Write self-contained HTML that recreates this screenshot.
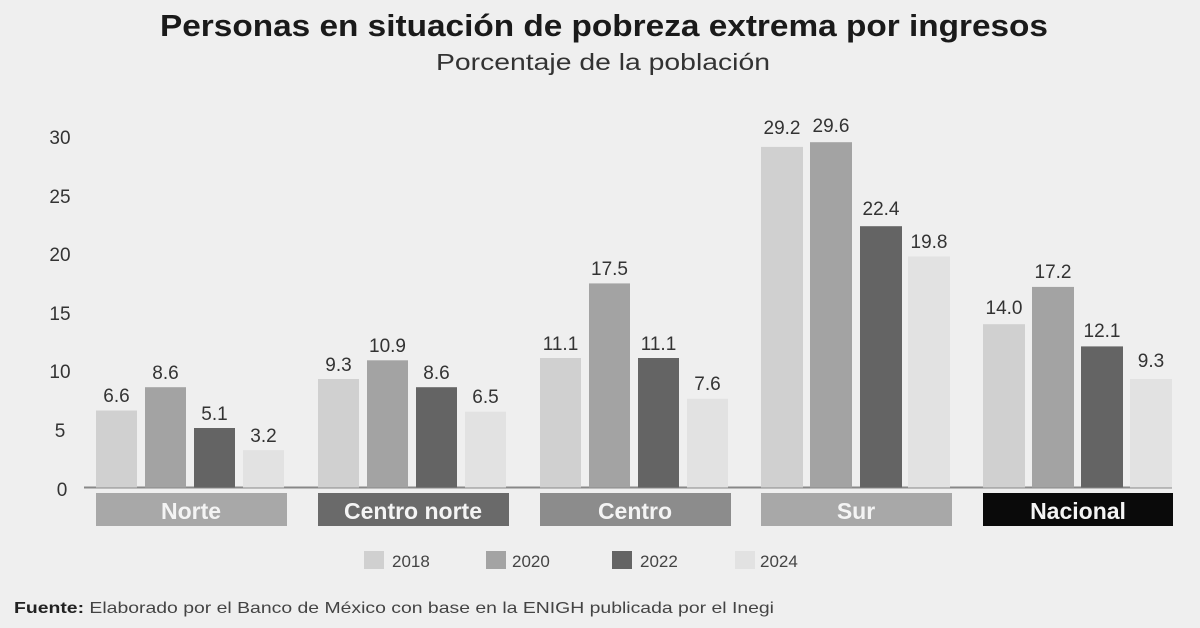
<!DOCTYPE html>
<html><head><meta charset="utf-8"><style>
html,body{margin:0;padding:0;background:#efefef}
svg{display:block;font-family:"Liberation Sans",sans-serif}
</style></head><body>
<svg width="1200" height="628" viewBox="0 0 1200 628" xmlns="http://www.w3.org/2000/svg">
<rect width="1200" height="628" fill="#efefef"/>
<text x="604" y="36" text-anchor="middle" font-size="31" font-weight="bold" fill="#1a1a1a" textLength="888" lengthAdjust="spacingAndGlyphs">Personas en situación de pobreza extrema por ingresos</text>
<text x="603" y="70" text-anchor="middle" font-size="23" fill="#333" textLength="334" lengthAdjust="spacingAndGlyphs">Porcentaje de la población</text>
<g font-size="19" fill="#333" text-anchor="middle">
<text x="60" y="144">30</text><text x="60" y="203">25</text><text x="60" y="261">20</text>
<text x="60" y="320">15</text><text x="60" y="378">10</text><text x="60" y="437">5</text><text x="62" y="496">0</text>
</g>
<line x1="84" y1="487.5" x2="1172" y2="487.5" stroke="#888" stroke-width="2"/>
<g font-size="23" font-weight="bold" fill="#f4f4f4" text-anchor="middle">
<rect x="96" y="493" width="191" height="33" fill="#a8a8a8"/><text x="191" y="519">Norte</text>
<rect x="318" y="493" width="191" height="33" fill="#6a6a6a"/><text x="413" y="519">Centro norte</text>
<rect x="540" y="493" width="191" height="33" fill="#8c8c8c"/><text x="635" y="519">Centro</text>
<rect x="761" y="493" width="191" height="33" fill="#a8a8a8"/><text x="856" y="519">Sur</text>
<rect x="983" y="493" width="190" height="33" fill="#0a0a0a"/><text x="1078" y="519">Nacional</text>
</g>
<g font-size="17" fill="#444">
<rect x="364" y="551" width="20" height="18" fill="#d0d0d0"/><text x="392" y="567">2018</text>
<rect x="486" y="551" width="20" height="18" fill="#a3a3a3"/><text x="512" y="567">2020</text>
<rect x="612" y="551" width="20" height="18" fill="#646464"/><text x="640" y="567">2022</text>
<rect x="735" y="551" width="20" height="18" fill="#e2e2e2"/><text x="760" y="567">2024</text>
</g>
<text x="14" y="613" font-size="16" fill="#444" textLength="760" lengthAdjust="spacingAndGlyphs"><tspan font-weight="bold" fill="#222">Fuente:</tspan> Elaborado por el Banco de México con base en la ENIGH publicada por el Inegi</text>
<g font-size="19" fill="#333" text-anchor="middle">
<rect x="96" y="410.5" width="41" height="77" fill="#d0d0d0"/><text x="116.5" y="402">6.6</text>
<rect x="145" y="387.2" width="41" height="100.3" fill="#a3a3a3"/><text x="165.5" y="379">8.6</text>
<rect x="194" y="428" width="41" height="59.5" fill="#646464"/><text x="214.5" y="420">5.1</text>
<rect x="243" y="450.2" width="41" height="37.3" fill="#e2e2e2"/><text x="263.5" y="442">3.2</text>

<rect x="318" y="379" width="41" height="108.5" fill="#d0d0d0"/><text x="338.5" y="371">9.3</text>
<rect x="367" y="360.3" width="41" height="127.2" fill="#a3a3a3"/><text x="387.5" y="352">10.9</text>
<rect x="416" y="387.2" width="41" height="100.3" fill="#646464"/><text x="436.5" y="379">8.6</text>
<rect x="465" y="411.7" width="41" height="75.8" fill="#e2e2e2"/><text x="485.5" y="403">6.5</text>

<rect x="540" y="358" width="41" height="129.5" fill="#d0d0d0"/><text x="560.5" y="350">11.1</text>
<rect x="589" y="283.4" width="41" height="204.1" fill="#a3a3a3"/><text x="609.5" y="275">17.5</text>
<rect x="638" y="358" width="41" height="129.5" fill="#646464"/><text x="658.5" y="350">11.1</text>
<rect x="687" y="398.8" width="41" height="88.7" fill="#e2e2e2"/><text x="707.5" y="390">7.6</text>

<rect x="761" y="146.9" width="42" height="340.6" fill="#d0d0d0"/><text x="782" y="134">29.2</text>
<rect x="810" y="142.2" width="42" height="345.3" fill="#a3a3a3"/><text x="831" y="132">29.6</text>
<rect x="860" y="226.2" width="42" height="261.3" fill="#646464"/><text x="881" y="215">22.4</text>
<rect x="908" y="256.5" width="42" height="231" fill="#e2e2e2"/><text x="929" y="248">19.8</text>

<rect x="983" y="324.2" width="42" height="163.3" fill="#d0d0d0"/><text x="1004" y="314">14.0</text>
<rect x="1032" y="286.9" width="42" height="200.6" fill="#a3a3a3"/><text x="1053" y="278">17.2</text>
<rect x="1081" y="346.4" width="42" height="141.1" fill="#646464"/><text x="1102" y="337">12.1</text>
<rect x="1130" y="379" width="42" height="108.5" fill="#e2e2e2"/><text x="1151" y="367">9.3</text>
</g>
</svg>
</body></html>
